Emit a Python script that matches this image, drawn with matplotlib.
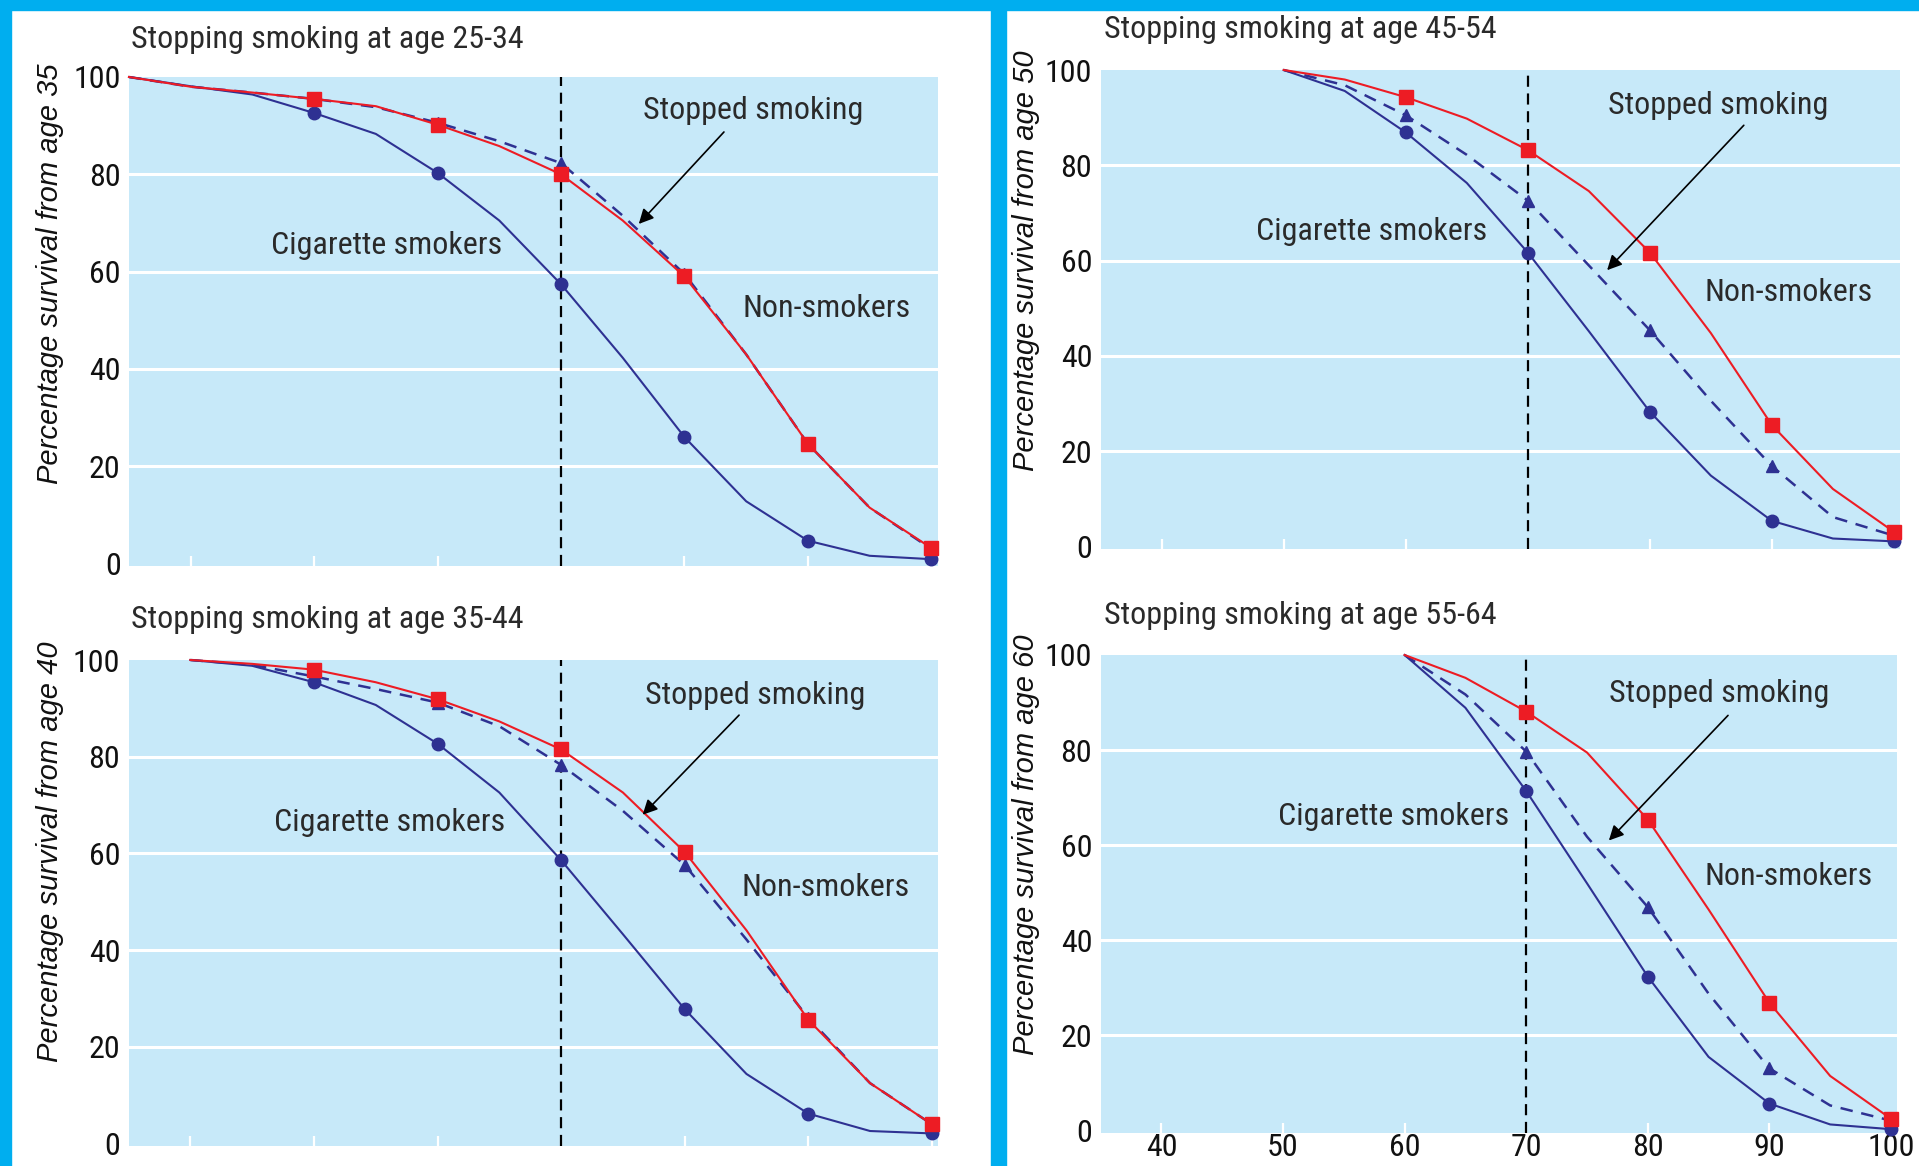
import matplotlib
matplotlib.use('Agg')
import matplotlib.pyplot as plt
from matplotlib import font_manager
from matplotlib.patches import Rectangle

W, H, DPI = 1919, 1166, 100

names = {f.name for f in font_manager.fontManager.ttflist}
NARROW = next((n for n in ['Roboto Condensed', 'Archivo Narrow', 'PT Sans Narrow', 'Liberation Sans']
               if n in names), 'DejaVu Sans')
REG = 'Liberation Sans' if 'Liberation Sans' in names else 'DejaVu Sans'

# ---------------- data (percentage survival) ----------------
ages_25_34 = [35, 40, 45, 50, 55, 60, 65, 70, 75, 80, 85, 90, 95, 100]
non_25_34 = [100, 98.0, 96.8, 95.5, 94.0, 90.2, 85.8, 80.0, 70.5, 59.0, 43.0, 24.6, 11.5, 3.2]
cig_25_34 = [100, 98.1, 96.4, 92.6, 88.3, 80.3, 70.5, 57.4, 42.3, 26.0, 12.8, 4.7, 1.6, 0.9]
stop_25_34 = [100, 98.0, 96.8, 95.5, 93.8, 90.6, 86.8, 82.3, 71.5, 59.5, 43.0, 24.6, 11.5, 3.0]
marks_25_34 = [50, 60, 70, 80, 90, 100]

ages_35_44 = [40, 45, 50, 55, 60, 65, 70, 75, 80, 85, 90, 95, 100]
non_35_44 = [100, 99.2, 98.0, 95.4, 91.9, 87.3, 81.5, 72.6, 60.3, 44.1, 25.6, 12.5, 4.0]
cig_35_44 = [100, 98.8, 95.4, 90.7, 82.7, 72.6, 58.6, 43.3, 27.8, 14.4, 6.2, 2.6, 2.1]
stop_35_44 = [100, 99.0, 96.6, 94.0, 91.2, 86.3, 78.3, 68.8, 57.6, 42.2, 26.0, 12.5, 4.0]
marks_35_44 = [50, 60, 70, 80, 90, 100]

ages_45_54 = [50, 55, 60, 65, 70, 75, 80, 85, 90, 95, 100]
non_45_54 = [100, 98.0, 94.3, 89.8, 83.2, 74.6, 61.7, 44.8, 25.5, 12.1, 3.1]
cig_45_54 = [100, 95.6, 86.9, 76.3, 61.7, 45.2, 28.3, 14.9, 5.4, 1.7, 1.1]
stop_45_54 = [100, 96.8, 90.5, 82.2, 72.6, 59.0, 45.4, 30.6, 16.9, 6.2, 2.3]
marks_45_54 = [60, 70, 80, 90, 100]

ages_55_64 = [60, 65, 70, 75, 80, 85, 90, 95, 100]
non_55_64 = [100, 95.2, 88.1, 79.5, 65.4, 46.5, 26.9, 11.5, 2.5]
cig_55_64 = [100, 88.9, 71.4, 52.0, 32.4, 15.5, 5.7, 1.3, 0.3]
stop_55_64 = [100, 91.7, 79.7, 61.8, 47.0, 28.8, 13.1, 5.3, 2.1]
marks_55_64 = [70, 80, 90, 100]

titles = ['Stopping smoking at age 25-34', 'Stopping smoking at age 45-54',
          'Stopping smoking at age 35-44', 'Stopping smoking at age 55-64']
ylabels = ['Percentage survival from age 35', 'Percentage survival from age 50',
           'Percentage survival from age 40', 'Percentage survival from age 60']
x_ticks = [40, 50, 60, 70, 80, 90, 100]
y_ticks = [0, 20, 40, 60, 80, 100]
label_stopped = 'Stopped smoking'
label_cig = 'Cigarette smokers'
label_non = 'Non-smokers'

series = [
    (ages_25_34, non_25_34, cig_25_34, stop_25_34, marks_25_34),
    (ages_45_54, non_45_54, cig_45_54, stop_45_54, marks_45_54),
    (ages_35_44, non_35_44, cig_35_44, stop_35_44, marks_35_44),
    (ages_55_64, non_55_64, cig_55_64, stop_55_64, marks_55_64),
]

# ---------------- layout (pixels, top-left origin) ----------------
axes_px = [(129, 77, 937.5, 566), (1100.7, 70, 1900, 549),
           (128.6, 660, 938, 1146), (1100.7, 655, 1897, 1133)]
title_px = [(131, 40), (1104, 30), (131, 619), (1104, 615.5)]
ylabel_px = [(50, 274), (1026, 261), (50, 852), (1026, 845)]
# annotation positions in data coords
ann = [
    dict(stop=(85.6, 93.2), a0=(83.2, 88.7), a1=(76.3, 69.8), cig=(55.9, 65.4), non=(91.5, 52.5)),
    dict(stop=(85.6, 92.6), a0=(87.7, 88.4), a1=(76.5, 58.0), cig=(57.2, 66.2), non=(91.4, 53.3)),
    dict(stop=(85.7, 92.6), a0=(84.4, 88.6), a1=(76.6, 68.0), cig=(56.1, 66.3), non=(91.4, 53.0)),
    dict(stop=(85.85, 92.0), a0=(86.6, 87.3), a1=(76.8, 61.0), cig=(59.1, 66.0), non=(91.6, 53.5)),
]

CYAN = '#00AEEF'
BG = '#C7E9F9'
RED = '#ED1C24'
NAVY = '#2E3192'
TXT = '#2a2a2a'
FS = 23

fig = plt.figure(figsize=(W / DPI, H / DPI), dpi=DPI)
fig.patch.set_facecolor('white')

def fr(px, py):
    return px / W, 1 - py / H

# cyan frame
fig.patches.append(Rectangle((0, 1 - 10 / H), 1, 10 / H, transform=fig.transFigure,
                             color=CYAN, zorder=0))
fig.patches.append(Rectangle((0, 0), 11 / W, 1, transform=fig.transFigure, color=CYAN, zorder=0))
fig.patches.append(Rectangle((991 / W, 0), 15 / W, 1, transform=fig.transFigure, color=CYAN, zorder=0))

for i in range(4):
    x0, y0, x1, y1 = axes_px[i]
    ax = fig.add_axes([x0 / W, 1 - y1 / H, (x1 - x0) / W, (y1 - y0) / H])
    ax.set_facecolor(BG)
    for s in ax.spines.values():
        s.set_visible(False)
    ax.set_xlim(35, 100.5)
    ax.set_ylim(-0.5, 100)
    ax.set_yticks(y_ticks)
    ax.set_xticks(x_ticks)
    for yv in y_ticks[1:-1]:
        ax.axhline(yv, color='white', lw=2.2, zorder=1)
    ax.tick_params(axis='y', length=0, pad=6, labelsize=FS, labelcolor='#111111')
    ax.tick_params(axis='x', direction='in', length=7, width=1.6, color='white',
                   labelsize=FS, labelcolor='#111111', pad=0)
    for lab in ax.get_yticklabels() + ax.get_xticklabels():
        lab.set_fontfamily(NARROW)
    if i != 3:
        ax.set_xticklabels([])

    ages, non, cig, stop, mk = series[i]
    marks = [ages.index(m) for m in mk]
    ax.axvline(70, color='black', lw=1.6, ls=(0, (5, 3)), zorder=2)
    ax.plot(ages, cig, color=NAVY, lw=1.5, marker='o', ms=9, markevery=marks,
            zorder=3, clip_on=False)
    ax.plot(ages, stop, color=NAVY, lw=1.8, ls=(0, (5, 3.5)), marker='^', ms=9,
            markevery=marks, zorder=4, clip_on=False)
    ax.plot(ages, non, color=RED, lw=1.5, marker='s', ms=10.5, markevery=marks,
            zorder=5, clip_on=False)

    a = ann[i]
    ax.text(*a['stop'], label_stopped, ha='center', va='center', fontsize=FS,
            family=NARROW, color=TXT, zorder=6)
    ax.text(*a['cig'], label_cig, ha='center', va='center', fontsize=FS,
            family=NARROW, color=TXT, zorder=6)
    ax.text(*a['non'], label_non, ha='center', va='center', fontsize=FS,
            family=NARROW, color=TXT, zorder=6)
    ax.annotate('', xy=a['a1'], xytext=a['a0'],
                arrowprops=dict(arrowstyle='-|>', color='black', lw=1.2,
                                mutation_scale=22, shrinkA=0, shrinkB=0), zorder=6)

    tx, ty = fr(*title_px[i])
    fig.text(tx, ty, titles[i], ha='left', va='center', fontsize=FS, family=NARROW,
             color=TXT)
    lx, ly = fr(*ylabel_px[i])
    fig.text(lx, ly, ylabels[i], ha='center', va='center', rotation=90, fontsize=21,
             family=REG, style='italic', color='#111111')

fig.savefig('out.png', dpi=DPI, facecolor=fig.get_facecolor())
